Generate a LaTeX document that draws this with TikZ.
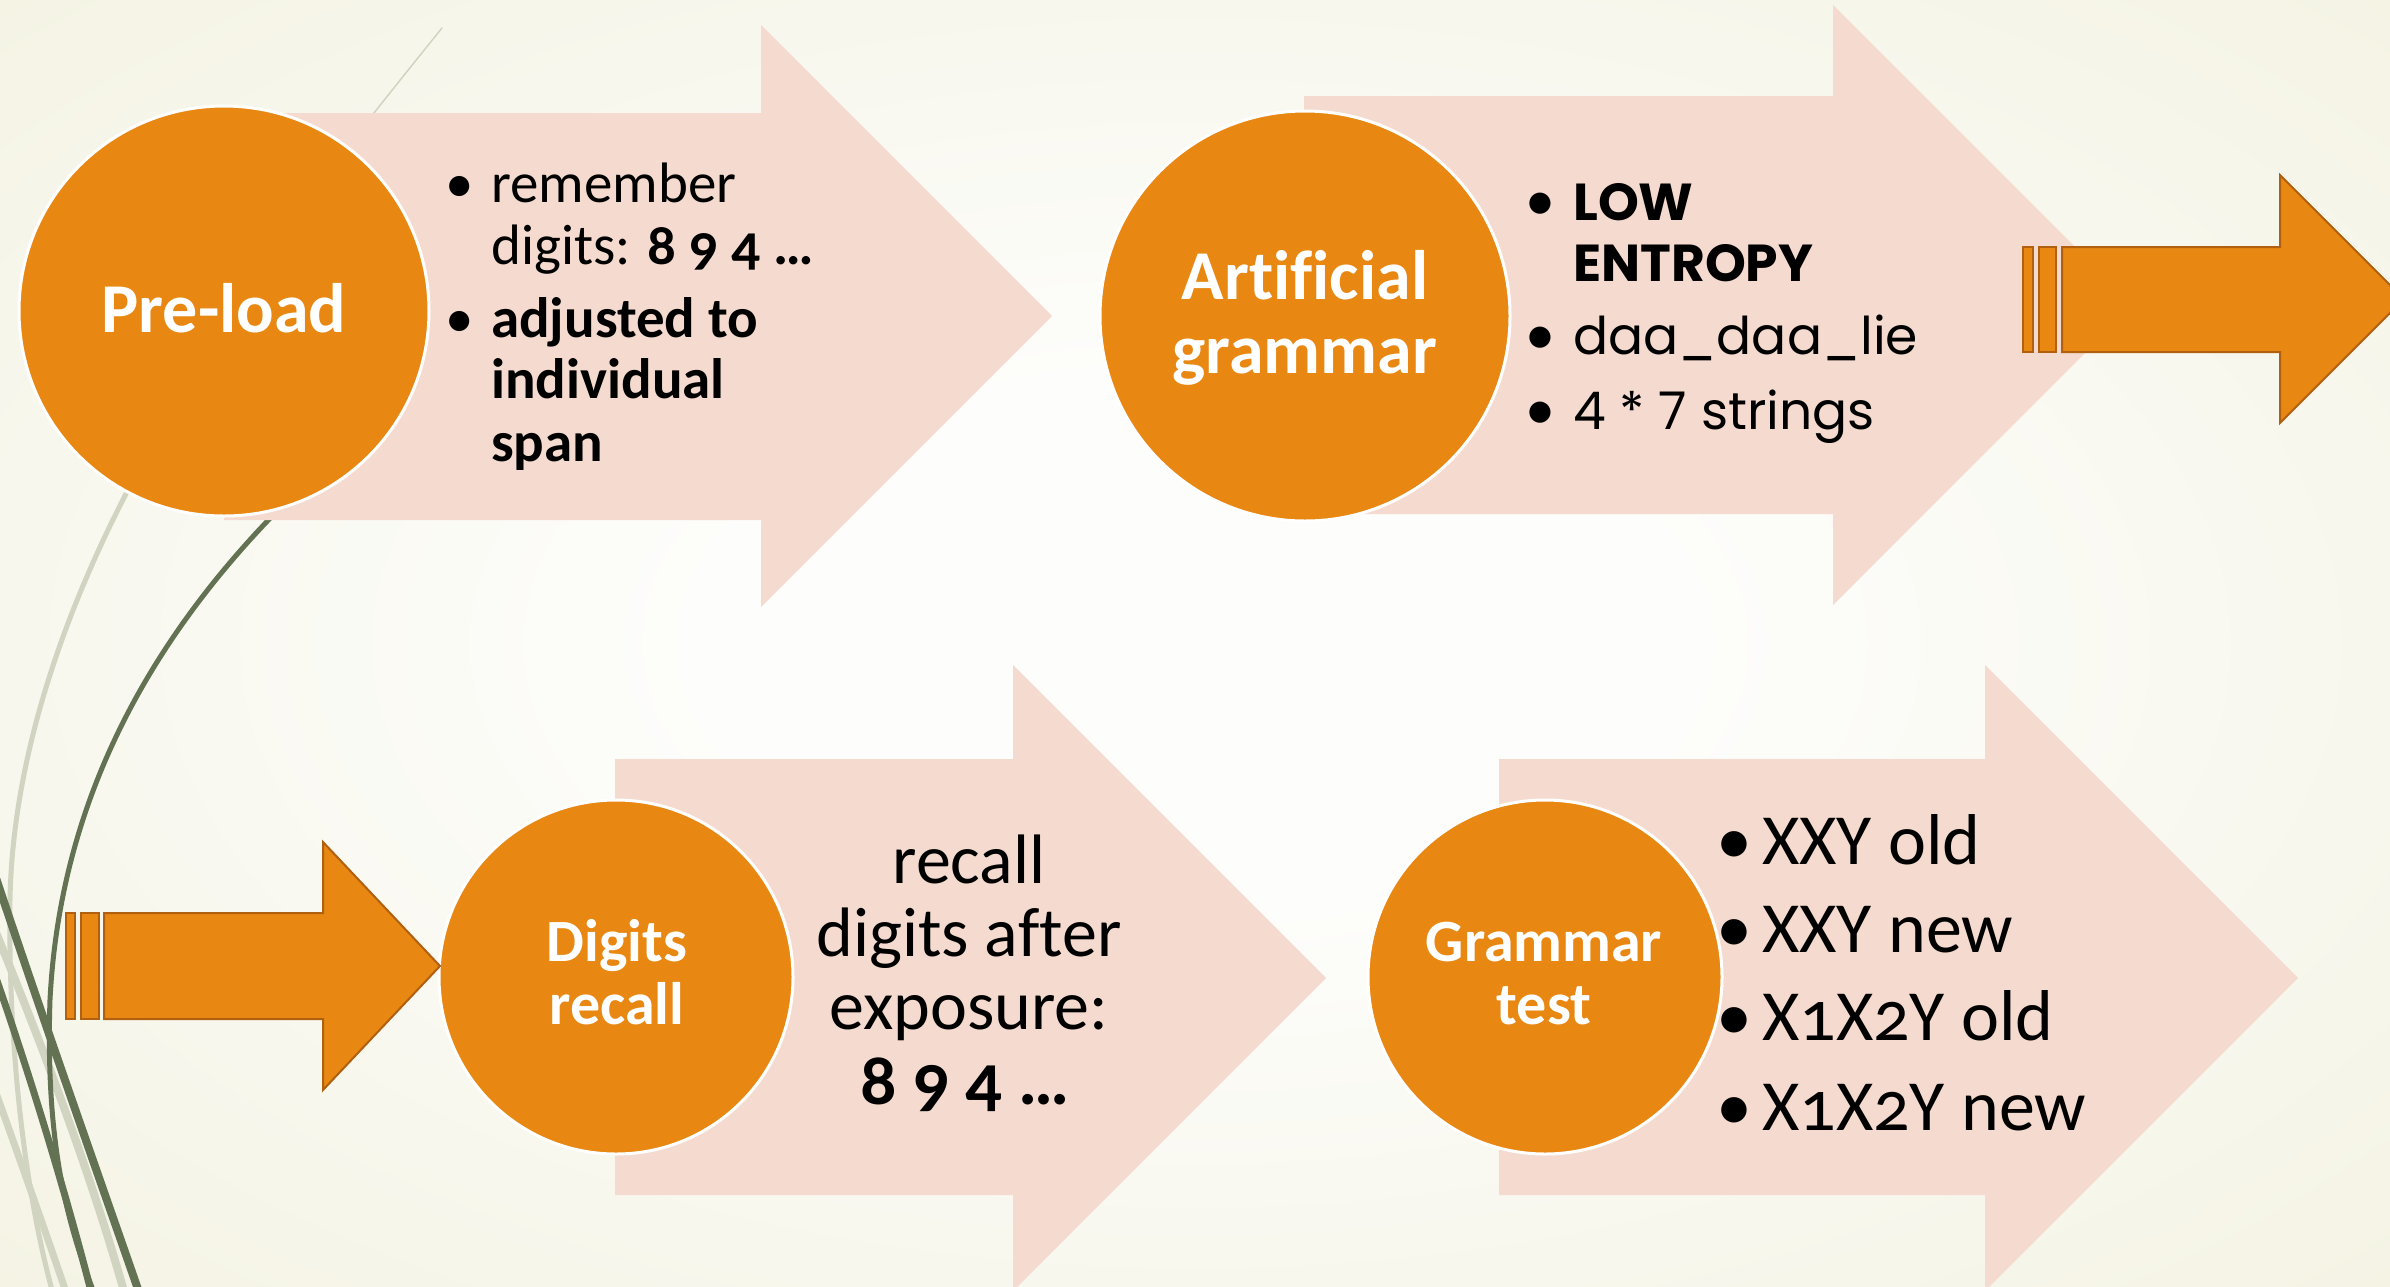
\documentclass[tikz,border=0pt]{standalone}
\usepackage{fontspec}
\setmainfont{Carlito}[Numbers=OldStyle, Ligatures=NoCommon]
\newfontfamily\geofont{Poppins}
\usetikzlibrary{calc}

\definecolor{pinkfill}{RGB}{245,219,207}
\definecolor{orangefill}{RGB}{232,135,17}
\definecolor{orangeedge}{RGB}{176,96,14}
\definecolor{wispdark}{RGB}{99,114,82}
\definecolor{wisplight}{RGB}{208,212,192}
\definecolor{bgwhite}{RGB}{253,253,251}
\definecolor{bgmid}{RGB}{244,243,228}
\definecolor{bgcream}{RGB}{233,228,200}

\pgfdeclareradialshading{bgglow}{\pgfpoint{0bp}{0bp}}{%
  color(0bp)=(bgwhite); color(10bp)=(bgwhite); color(34bp)=(bgmid); color(66bp)=(bgcream); color(80bp)=(bgcream)}

\tikzset{
  stagearrow/.style={fill=pinkfill, draw=none},
  stagecircle/.style={circle, fill=orangefill, draw=white, line width=3pt, inner sep=0pt},
  linkarrow/.style={fill=orangefill, draw=orangeedge, line width=2pt, line join=miter},
  circlelabel/.style={anchor=base, inner sep=0pt, text=white, font=\fontsize{#1}{#1}\selectfont\bfseries},
  bodytext/.style={anchor=base west, inner sep=0pt, font=\fontsize{#1}{#1}\selectfont},
  bodybold/.style={anchor=base west, inner sep=0pt, font=\fontsize{#1}{#1}\selectfont\bfseries},
  bodycenter/.style={anchor=base, inner sep=0pt, font=\fontsize{#1}{#1}\selectfont},
  bulletmark/.style={anchor=base, inner sep=0pt, font=\fontsize{#1}{#1}\selectfont},
  geotext/.style={anchor=base west, inner sep=0pt, font=\geofont\fontsize{#1}{#1}\selectfont},
  geobold/.style={anchor=base west, inner sep=0pt, font=\geofont\bfseries\fontsize{#1}{#1}\selectfont},
  wisp/.style={line cap=round, fill=none}
}

\begin{document}
\begin{tikzpicture}[x=1pt,y=-1pt]
\useasboundingbox (0,0) rectangle (2390,1286);
\begin{scope}
\clip (0,0) rectangle (2390,1286);

% background glow
\shade[shading=bgglow] (-40,-30) rectangle (2430,1316);

% wisps along the left edge
\draw[wisp, wisplight, line width=1.5pt] (442,28) .. controls (400,80) and (360,130) .. (330,170);
\draw[wisp, wisplight, line width=5pt] (128,490) .. controls (50,640) and (12,780) .. (10,900) .. controls (8,1050) and (25,1190) .. (52,1290);
\draw[wisp, wisplight, line width=8pt] (-5,930) .. controls (40,1040) and (90,1170) .. (125,1295);
\draw[wisp, wisplight, line width=7pt] (-5,1090) .. controls (20,1160) and (45,1230) .. (67,1295);
\draw[wisp, wispdark, line width=5pt] (280,508) .. controls (150,640) and (60,800) .. (50,1000) .. controls (45,1150) and (70,1230) .. (93,1290);
\draw[wisp, wispdark, line width=8pt] (-5,875) .. controls (45,1025) and (100,1180) .. (140,1295);
\draw[wisp, wispdark, line width=7pt] (-5,975) .. controls (30,1075) and (65,1190) .. (92,1295);

% stage arrows
\fill[stagearrow] (224,113) -- (761,113) -- (761,25) -- (1052,316) -- (761,607) -- (761,520) -- (224,520) -- cycle;
\fill[stagearrow] (1304,96) -- (1833,96) -- (1833,5) -- (2133,305) -- (1833,605) -- (1833,514) -- (1304,514) -- cycle;
\fill[stagearrow] (615,759) -- (1013,759) -- (1013,665) -- (1326,978) -- (1013,1291) -- (1013,1195) -- (615,1195) -- cycle;
\fill[stagearrow] (1499,759) -- (1985,759) -- (1985,665) -- (2298,978) -- (1985,1291) -- (1985,1195) -- (1499,1195) -- cycle;

% stage circles
\node[stagecircle, minimum size=410pt] (c1) at (224,311) {};
\node[stagecircle, minimum size=410pt] (c2) at (1305,316) {};
\node[stagecircle, minimum size=354pt] (c3) at (616,977) {};
\node[stagecircle, minimum size=354pt] (c4) at (1545,977) {};

\node[circlelabel=70] (c1t) at (224,332) {Pre-load};
\node[circlelabel=70] (c2t1) at (1305,299) {Artificial};
\node[circlelabel=70] (c2t2) at (1305,373) {grammar};
\node[circlelabel=60] (c3t1) at (617,961) {Digits};
\node[circlelabel=60] (c3t2) at (617,1024) {recall};
\node[circlelabel=60] (c4t1) at (1544,961) {Grammar};
\node[circlelabel=60] (c4t2) at (1544,1024) {test};

% link arrows between the rows
\filldraw[linkarrow] (2062,247) -- (2280,247) -- (2280,175) -- (2404,299) -- (2280,423) -- (2280,352) -- (2062,352) -- cycle;
\filldraw[linkarrow] (2023,247) rectangle (2033,352);
\filldraw[linkarrow] (2039,247) rectangle (2056,352);
\filldraw[linkarrow] (104,913) -- (323,913) -- (323,842) -- (440,966) -- (323,1090) -- (323,1019) -- (104,1019) -- cycle;
\filldraw[linkarrow] (66,913) rectangle (75,1019);
\filldraw[linkarrow] (81,913) rectangle (99,1019);

% text of the first stage
\node[bulletmark=57] (a1b1) at (460,202) {•};
\node[bodytext=57] (a1l1) at (491,202) {remember};
\node[bodytext=57] (a1l2) at (491,264) {digits: \textbf{8 9 4 …}};
\node[bulletmark=57] (a1b2) at (460,337) {•};
\node[bodybold=57] (a1l3) at (491,337) {adjusted to};
\node[bodybold=57] (a1l4) at (491,398) {individual};
\node[bodybold=57] (a1l5) at (491,461) {span};

% text of the second stage
\node[bulletmark=60] (a2b1) at (1540,220) {•};
\node[geobold=52] (a2l1) at (1573,220) {LOW};
\node[geobold=52] (a2l2) at (1573,281) {ENTROPY};
\node[bulletmark=60] (a2b2) at (1540,354) {•};
\node[geotext=52] (a2l3) at (1573,354) {daa\_daa\_lie};
\node[bulletmark=60] (a2b3) at (1540,429) {•};
\node[geotext=52] (a2l4) at (1573,429) {4 * 7 strings};

% text of the third stage
\node[bodycenter=70] (a3l1) at (969,883) {recall};
\node[bodycenter=70] (a3l2) at (969,956) {digits after};
\node[bodycenter=70] (a3l3) at (969,1029) {exposure:};
\node[bodycenter=70, font=\fontsize{72}{72}\selectfont\bfseries] (a3l4) at (965,1104) {8 9 4 …};

% text of the fourth stage
\node[bulletmark=72] (a4b1) at (1734,864) {•};
\node[bodytext=72] (a4l1) at (1762,864) {XXY old};
\node[bulletmark=72] (a4b2) at (1734,952) {•};
\node[bodytext=72] (a4l2) at (1762,952) {XXY new};
\node[bulletmark=72] (a4b3) at (1734,1040) {•};
\node[bodytext=72] (a4l3) at (1762,1040) {X1X2Y old};
\node[bulletmark=72] (a4b4) at (1734,1130) {•};
\node[bodytext=72] (a4l4) at (1762,1130) {X1X2Y new};
\end{scope}
\end{tikzpicture}
\end{document}
